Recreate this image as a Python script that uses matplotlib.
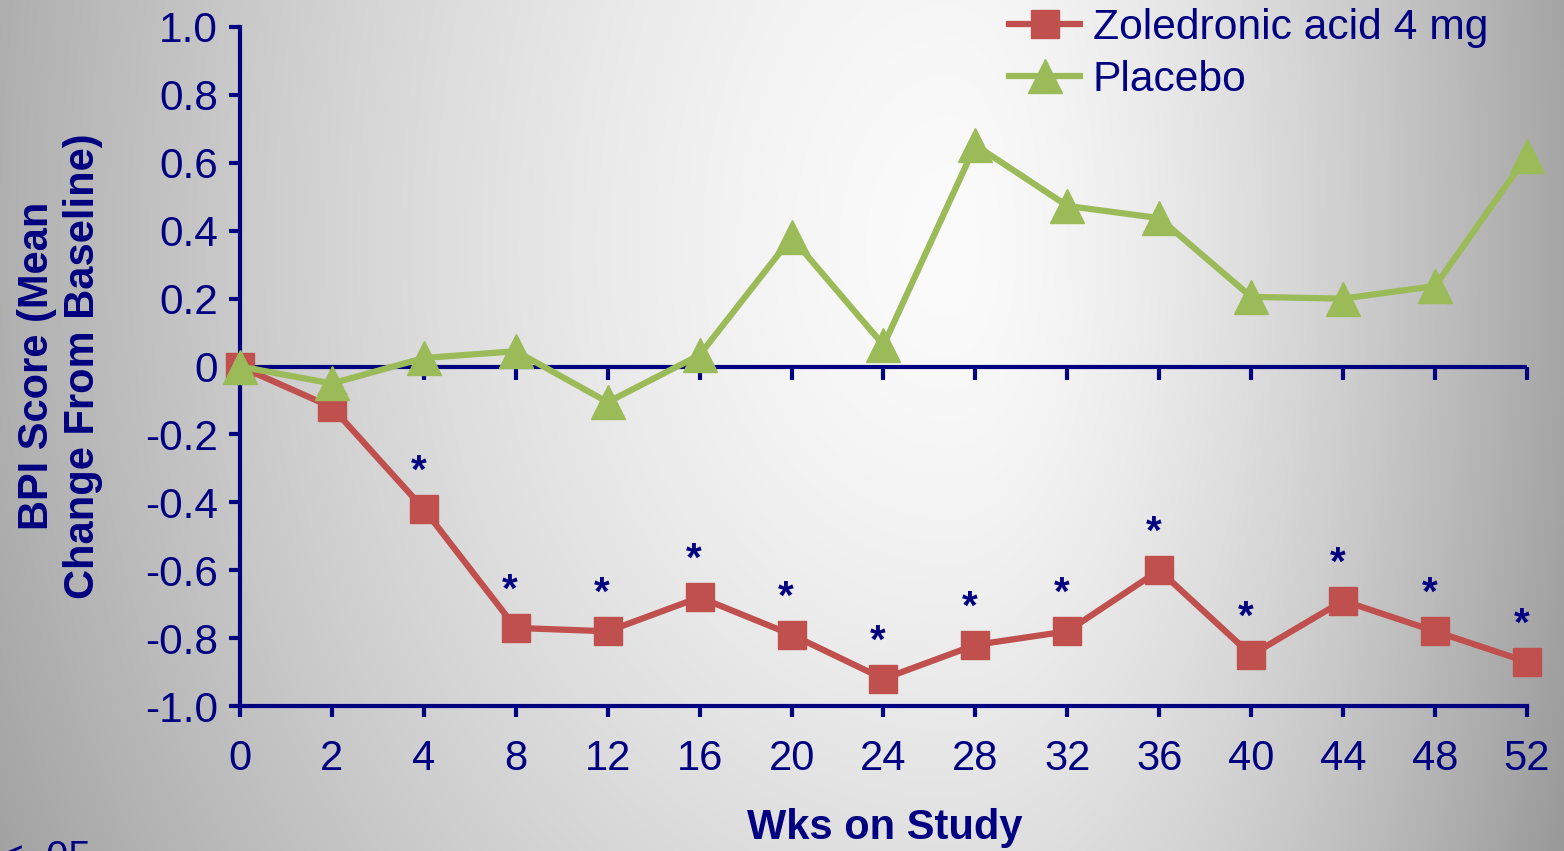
import numpy as np
import matplotlib.pyplot as plt

plt.rcParams['font.family'] = ['Liberation Sans', 'DejaVu Sans']

weeks = [0, 2, 4, 8, 12, 16, 20, 24, 28, 32, 36, 40, 44, 48, 52]
zoledronic = [0.0, -0.12, -0.42, -0.77, -0.78, -0.68, -0.79, -0.92,
              -0.82, -0.78, -0.60, -0.85, -0.69, -0.78, -0.87]
placebo = [0.0, -0.05, 0.025, 0.045, -0.105, 0.034, 0.38, 0.063,
           0.652, 0.473, 0.437, 0.205, 0.20, 0.237, 0.62]
# p < .05 vs placebo
significant = [False, False, True, True, True, True, True, True,
               True, True, True, True, True, True, True]
ytick_vals = [-1.0, -0.8, -0.6, -0.4, -0.2, 0.0, 0.2, 0.4, 0.6, 0.8, 1.0]
ytick_text = ['-1.0', '-0.8', '-0.6', '-0.4', '-0.2', '0',
              '0.2', '0.4', '0.6', '0.8', '1.0']

NAVY = '#000080'
RED = '#C0504D'
GREEN = '#9BBB59'

W, H = 1564, 851
fig = plt.figure(figsize=(W / 100, H / 100), dpi=100)

# grey slide background, brightest just right of centre
bg = fig.add_axes([0, 0, 1, 1], zorder=-10)
yy, xx = np.mgrid[0:H, 0:W].astype(float)
cx, cy = 950.0, 250.0
dx = np.where(xx < cx, (cx - xx) / 950.0, (xx - cx) / 563.0)
dy = np.where(yy < cy, (cy - yy) / 1500.0, (yy - cy) / 1200.0)
r = np.sqrt(dx ** 2 + dy ** 2)
shade = np.clip(251 - 75 * r ** 1.5, 150, 255) / 255.0
bg.imshow(np.dstack([shade] * 3), aspect='auto', interpolation='bilinear')
bg.axis('off')

ax = fig.add_axes([240 / W, 1 - 706 / H, 1287 / W, 679 / H])
ax.patch.set_visible(False)
x = np.arange(len(weeks))

# zero reference line with its own downward ticks
ax.axhline(0, color=NAVY, lw=3, zorder=1)
ax.plot(x, np.zeros(len(x)), ls='none', marker=3, ms=9, mew=3,
        color=NAVY, clip_on=False, zorder=1)

ax.plot(x, zoledronic, color=RED, lw=4.5, marker='s', ms=19.5,
        label='Zoledronic acid 4 mg', clip_on=False, zorder=3)
ax.plot(x, placebo, color=GREEN, lw=4.5, marker='^', ms=24,
        label='Placebo', clip_on=False, zorder=4)

for xi, yi, sig in zip(x, zoledronic, significant):
    if sig:
        ax.annotate('*', (xi, yi), xytext=(-4, 19), textcoords='offset points',
                    ha='center', va='baseline', fontsize=29, fontweight='bold',
                    color=NAVY)

ax.set_xlim(0, len(weeks) - 1)
ax.set_ylim(-1.0, 1.0)
ax.set_xticks(x)
ax.set_xticklabels([str(w) for w in weeks])
ax.set_yticks(ytick_vals)
ax.set_yticklabels(ytick_text)

for side in ['top', 'right']:
    ax.spines[side].set_visible(False)
for side in ['left', 'bottom']:
    ax.spines[side].set_color(NAVY)
    ax.spines[side].set_linewidth(3)
ax.tick_params(axis='both', colors=NAVY, width=3, length=8)
ax.tick_params(axis='y', pad=8, labelsize=30.5)
ax.tick_params(axis='x', pad=16, labelsize=30)

fig.text(60 / W, 1 - 366 / H, 'BPI Score (Mean\nChange From Baseline)',
         rotation=90, ha='center', va='center', fontsize=30,
         fontweight='bold', color=NAVY, linespacing=1.2)
fig.text(885 / W, 1 - 828 / H, 'Wks on Study', ha='center', va='center',
         fontsize=30, fontweight='bold', color=NAVY)
fig.text(91 / W, 1 - 869 / H, '*p < .05', ha='right', va='baseline',
         fontsize=29, color=NAVY)

leg = fig.legend(loc='upper left', bbox_to_anchor=(1009 / W, 1 - 8 / H),
                 frameon=False, fontsize=30.7, labelcolor=NAVY,
                 handlelength=1.67, handletextpad=0.3, borderpad=0,
                 borderaxespad=0, labelspacing=0.28)

fig.savefig('out.png', dpi=100)
